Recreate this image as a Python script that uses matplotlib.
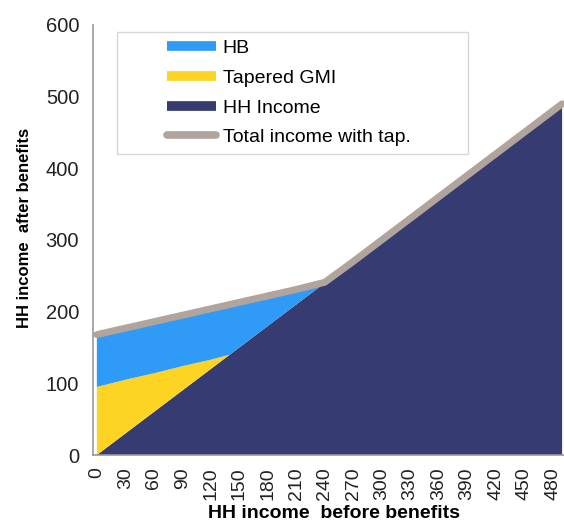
import matplotlib.pyplot as plt
from matplotlib.lines import Line2D
from matplotlib.legend_handler import HandlerLine2D

plt.rcParams['font.family'] = ['Liberation Sans', 'DejaVu Sans']

# datos
ingreso_hogar = [0, 30, 60, 90, 120, 140, 150, 180, 210, 240, 270, 300, 330,
                 360, 390, 420, 450, 480, 490]
gmi_reducido = [95, 75, 54, 34, 13, 0, 0, 0, 0, 0, 0, 0, 0,
                0, 0, 0, 0, 0, 0]
hb = [73, 72, 72, 71, 71, 70, 63, 42, 21, 0, 0, 0, 0,
      0, 0, 0, 0, 0, 0]
ingreso_total = [168, 177, 186, 195, 204, 210, 213, 222, 231, 241, 270, 300, 330,
                 360, 390, 420, 450, 480, 490]
marcas_x = [0, 30, 60, 90, 120, 150, 180, 210, 240, 270, 300, 330, 360, 390,
            420, 450, 480]

color_hb = '#2f9bf7'
color_gmi = '#fdd424'
color_hh = '#363b72'
color_total = '#b1a49c'


# el manejador dibuja la linea solo en la parte derecha de la caja
class ManejadorDerecha(HandlerLine2D):
    def get_xdata(self, legend, xdescent, ydescent, width, height, fontsize):
        xd = [-xdescent + width * 0.46, -xdescent + width]
        return xd, xd


fig = plt.figure(figsize=(5.64, 5.27), dpi=100)
ax = fig.add_axes([0.165, 0.1366, 0.835, 0.816])

ax.stackplot(ingreso_hogar, ingreso_hogar, gmi_reducido, hb,
             colors=[color_hh, color_gmi, color_hb], linewidth=0)
ax.plot(ingreso_hogar, ingreso_total, color=color_total, lw=5,
        solid_capstyle='round', solid_joinstyle='round')

ax.set_xlim(-4, 492)
ax.set_ylim(0, 600)
ax.set_xticks(marcas_x)
ax.set_xticklabels([str(v) for v in marcas_x], rotation=90, fontsize=14)
ax.set_yticks(range(0, 601, 100))
ax.tick_params(axis='y', labelsize=14.5)
ax.tick_params(length=0, colors='#222222')
ax.tick_params(axis='x', pad=9)
ax.tick_params(axis='y', pad=10)

for s in ['top', 'right']:
    ax.spines[s].set_visible(False)
for s in ['left', 'bottom']:
    ax.spines[s].set_color('#999999')
    ax.spines[s].set_linewidth(1.2)

ax.set_ylabel('HH income  after benefits', fontsize=12, fontweight='bold')
ax.yaxis.set_label_coords(-0.13, 0.528)
ax.set_xlabel('HH income  before benefits', fontsize=14, fontweight='bold')
ax.xaxis.set_label_coords(0.512, -0.117)

manejadores = [
    Line2D([], [], color=color_hb, lw=7, solid_capstyle='butt'),
    Line2D([], [], color=color_gmi, lw=7, solid_capstyle='butt'),
    Line2D([], [], color=color_hh, lw=7, solid_capstyle='butt'),
    Line2D([], [], color=color_total, lw=5.5, solid_capstyle='round'),
]
etiquetas = ['HB', 'Tapered GMI', 'HH Income', 'Total income with tap.']
leg = ax.legend(manejadores, etiquetas, loc='upper left',
                bbox_to_anchor=(0.051, 0.984, 0.745, 0), mode='expand',
                fontsize=14, frameon=True,
                fancybox=False, edgecolor='#cccccc', handlelength=4.68,
                handletextpad=0.36, labelspacing=0.62, borderpad=0.4,
                borderaxespad=0,
                handler_map={Line2D: ManejadorDerecha()})
leg.get_frame().set_linewidth(1.0)

fig.savefig('out.png', dpi=100)
